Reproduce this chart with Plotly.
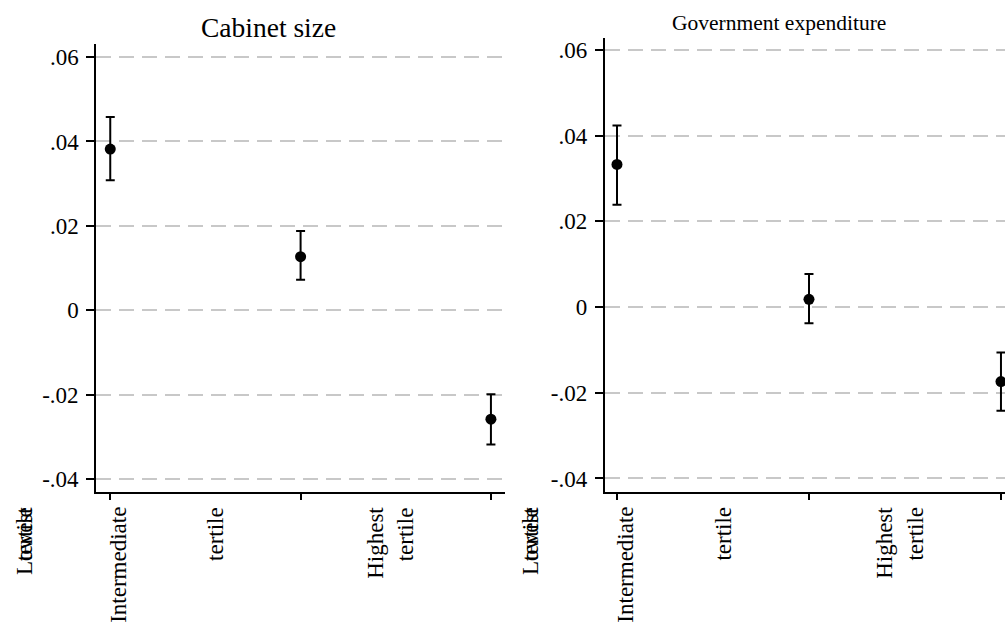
import plotly.graph_objects as go

# ---------------- data ----------------
categories = ["Lowest tertile", "Intermediate tertile", "Highest tertile"]
cat_pos = [1, 2, 3]

cabinet_est = [0.0382, 0.0127, -0.0258]
cabinet_lo = [0.0308, 0.0072, -0.0318]
cabinet_hi = [0.0458, 0.0188, -0.0199]

gov_est = [0.0333, 0.0018, -0.0174]
gov_lo = [0.0239, -0.0038, -0.0242]
gov_hi = [0.0424, 0.0077, -0.0106]

ytick_vals = [-0.04, -0.02, 0, 0.02, 0.04, 0.06]
ytick_text = ["-.04", "-.02", "0", ".02", ".04", ".06"]

titles = ["Cabinet size", "Government expenditure"]

# ---------------- layout constants ----------------
W, H = 1005, 628
FONT = "Liberation Serif"

panels = [
    dict(xdom=[0.0955, 0.5025], ydom=[0.217, 0.930], xr=[0.925, 3.074], yr=[-0.0430, 0.0631],
         title_x=268.5, title_y=28, title_size=27.5),
    dict(xdom=[0.6015, 1.0], ydom=[0.217, 0.9395], xr=[0.935, 3.021], yr=[-0.0431, 0.0628],
         title_x=779, title_y=23, title_size=21.5),
]

# rotated label line placements (in category units) - mimic the original rendering
label_lines = [("Lowest", 0.547), ("tertile", 0.547), ("Intermediate", 1.04),
               ("tertile", 1.55), ("Highest", 2.39), ("tertile", 2.55)]
label_top_px = 505

fig = go.Figure()
series = [(cabinet_est, cabinet_lo, cabinet_hi), (gov_est, gov_lo, gov_hi)]

for i, (est, lo, hi) in enumerate(series):
    sfx = "" if i == 0 else str(i + 1)
    fig.add_trace(go.Scatter(
        x=cat_pos, y=est, mode="markers",
        xaxis="x" + sfx, yaxis="y" + sfx,
        marker=dict(color="black", size=11),
        error_y=dict(type="data", symmetric=False,
                     array=[h - e for h, e in zip(hi, est)],
                     arrayminus=[e - l for e, l in zip(est, lo)],
                     color="black", thickness=2, width=4.5),
        cliponaxis=False, showlegend=False,
        text=categories, hoverinfo="text+y",
    ))

layout = dict(
    width=W, height=H, margin=dict(l=0, r=0, t=0, b=0),
    paper_bgcolor="white", plot_bgcolor="white",
    font=dict(family=FONT, color="black"),
    showlegend=False,
)
annotations = []
for i, p in enumerate(panels):
    sfx = "" if i == 0 else str(i + 1)
    layout["xaxis" + sfx] = dict(
        domain=p["xdom"], range=p["xr"], anchor="y" + sfx,
        tickvals=cat_pos, showticklabels=False, ticks="outside", ticklen=7,
        tickwidth=1.5, tickcolor="black", showline=True, linecolor="black",
        linewidth=1.5, showgrid=False, zeroline=False,
    )
    layout["yaxis" + sfx] = dict(
        domain=p["ydom"], range=p["yr"], anchor="x" + sfx,
        tickvals=ytick_vals, ticktext=ytick_text, ticks="outside", ticklen=8,
        tickwidth=1.5, tickcolor="black", showline=True, linecolor="black",
        linewidth=1.5, showgrid=True, gridcolor="#c8c8c8", gridwidth=1.6,
        griddash="15px,8px", zeroline=False,
        tickfont=dict(family=FONT, size=23, color="black"),
        ticklabelstandoff=3,
    )
    annotations.append(dict(
        text=titles[i], xref="paper", yref="paper",
        x=p["title_x"] / W, y=1 - p["title_y"] / H,
        xanchor="center", yanchor="middle", showarrow=False,
        font=dict(family=FONT, size=p["title_size"], color="black"),
    ))
    x0, x1 = p["xdom"]
    r0, r1 = p["xr"]
    for txt, pos in label_lines:
        annotations.append(dict(
            text=txt, xref="paper", yref="paper",
            x=x0 + (pos - r0) / (r1 - r0) * (x1 - x0),
            y=1 - label_top_px / H,
            xanchor="center", yanchor="top", textangle=-90, showarrow=False,
            font=dict(family=FONT, size=23, color="black"),
        ))
layout["annotations"] = annotations
fig.update_layout(**layout)

fig.write_html(
    "out.html",
    config={"displayModeBar": False},
    post_script="document.body.style.margin='0';document.body.style.padding='0';"
                "document.body.style.overflow='hidden';",
)
